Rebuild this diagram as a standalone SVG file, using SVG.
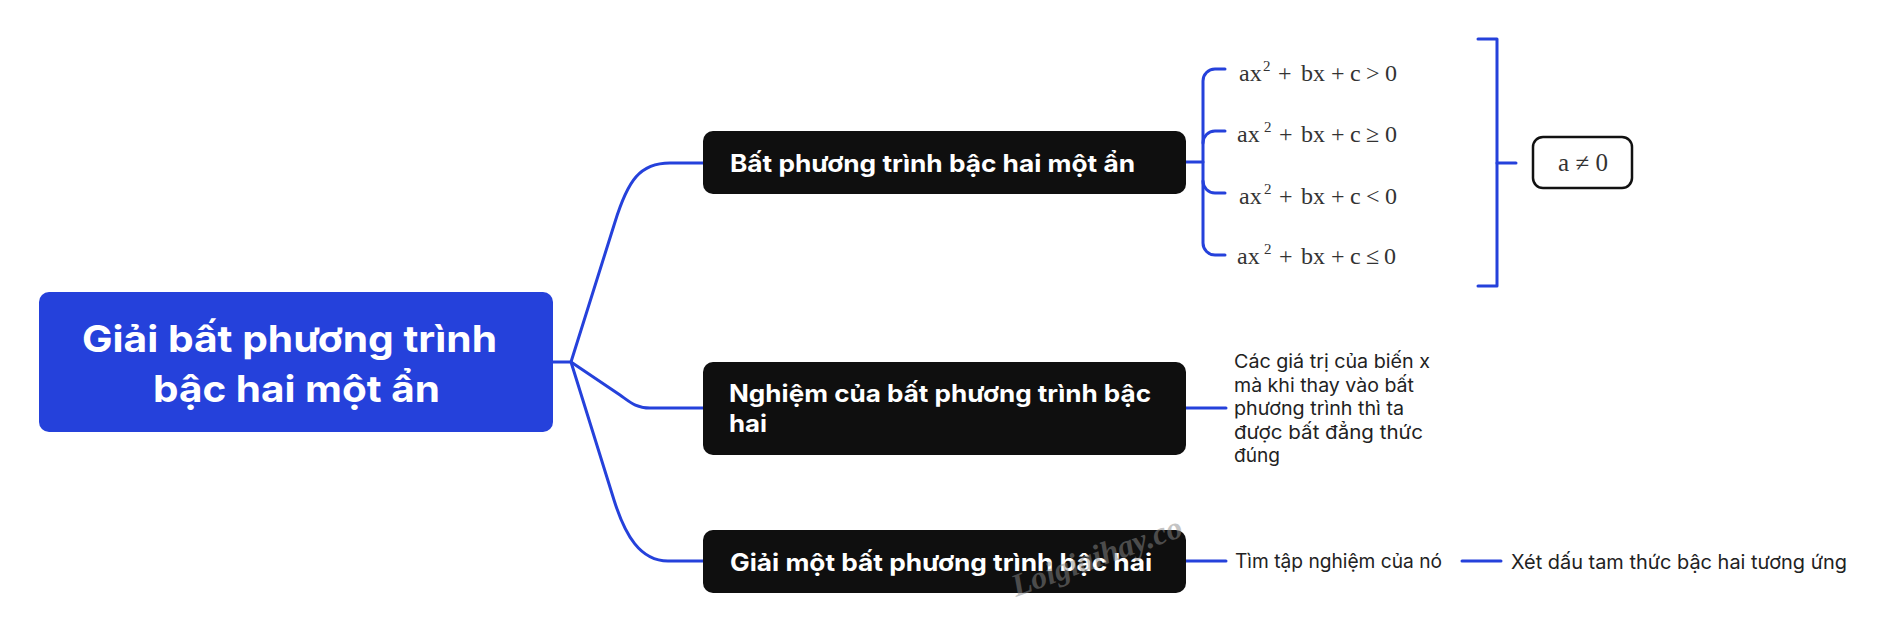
<svg xmlns="http://www.w3.org/2000/svg" width="1897" height="625" viewBox="0 0 1897 625">
<style>
.conn{fill:none;stroke:#2541db;stroke-width:3;stroke-linecap:round;stroke-linejoin:round}
.root{fill:#2541db}
.node{fill:#0f0f0f}
.rt{font-family:Inter,"Noto Sans",sans-serif;font-weight:700;font-size:37px;fill:#fff}
.nt{font-family:Inter,"Noto Sans",sans-serif;font-weight:700;font-size:24px;fill:#fff}
.lt{font-family:Inter,"Noto Sans",sans-serif;font-size:18.5px;fill:#222}
.lt2{font-family:Inter,"Noto Sans",sans-serif;font-size:19.5px;fill:#222}
.f{font-family:"Liberation Serif","Times New Roman",serif;font-size:24px;fill:#333}
.sup{font-size:15px}
.wm{font-family:"Liberation Serif",serif;font-weight:700;font-style:italic;font-size:32px;fill:#8a8a8a;opacity:0.5}
</style>
<g id="connectors">
<path class="conn" d="M553 362 H571"/>
<path class="conn" d="M571 362 L615 222 C628 180 640 163 670 163 H703"/>
<path class="conn" d="M571 362 L620 395 C630 402 636 408 650 408 H703"/>
<path class="conn" d="M571 362 L614 500 C625 535 640 561 668 561 H703"/>
<path class="conn" d="M1186 162 H1203"/>
<path class="conn" d="M1225 69 H1215 A12 12 0 0 0 1203 81 V243 A12 12 0 0 0 1215 255 H1225"/>
<path class="conn" d="M1203 143 A12 12 0 0 1 1215 131 H1225"/>
<path class="conn" d="M1203 181 A12 12 0 0 0 1215 193 H1225"/>
<path class="conn" d="M1478 39 H1497 V286 H1478"/>
<path class="conn" d="M1497 163 H1516"/>
<path class="conn" d="M1186 408 H1226"/>
<path class="conn" d="M1186 561 H1226"/>
<path class="conn" d="M1462 561 H1501"/>
</g>
<g id="root">
<rect class="root" x="39" y="292" width="514" height="140" rx="10"/>
<text class="rt" x="82" y="352" textLength="415" lengthAdjust="spacingAndGlyphs">Giải bất phương trình</text>
<text class="rt" x="153" y="402" textLength="287" lengthAdjust="spacingAndGlyphs">bậc hai một ẩn</text>
</g>
<g id="n1">
<rect class="node" x="703" y="131" width="483" height="63" rx="10"/>
<text class="nt" x="730" y="172" textLength="405" lengthAdjust="spacingAndGlyphs">Bất phương trình bậc hai một ẩn</text>
</g>
<g id="n2">
<rect class="node" x="703" y="362" width="483" height="93" rx="10"/>
<text class="nt" x="729" y="402" textLength="422" lengthAdjust="spacingAndGlyphs">Nghiệm của bất phương trình bậc</text>
<text class="nt" x="729" y="432" textLength="38" lengthAdjust="spacingAndGlyphs">hai</text>
</g>
<g id="n3">
<rect class="node" x="703" y="530" width="483" height="63" rx="10"/>
<text class="nt" x="730" y="571" textLength="422" lengthAdjust="spacingAndGlyphs">Giải một bất phương trình bậc hai</text>
</g>
<g id="f1"><text class="f" y="81"><tspan x="1239">ax</tspan><tspan class="sup" x="1263" dy="-10">2</tspan><tspan x="1278" dy="10">+</tspan><tspan x="1301">bx</tspan><tspan x="1331">+</tspan><tspan x="1350">c</tspan><tspan x="1366">&gt;</tspan><tspan x="1385">0</tspan></text></g>
<g id="f2"><text class="f" y="142"><tspan x="1237">ax</tspan><tspan class="sup" x="1264" dy="-10">2</tspan><tspan x="1279" dy="10">+</tspan><tspan x="1301">bx</tspan><tspan x="1331">+</tspan><tspan x="1350">c</tspan><tspan x="1366">≥</tspan><tspan x="1385">0</tspan></text></g>
<g id="f3"><text class="f" y="204"><tspan x="1239">ax</tspan><tspan class="sup" x="1264" dy="-10">2</tspan><tspan x="1279" dy="10">+</tspan><tspan x="1301">bx</tspan><tspan x="1331">+</tspan><tspan x="1350">c</tspan><tspan x="1366">&lt;</tspan><tspan x="1385">0</tspan></text></g>
<g id="f4"><text class="f" y="264"><tspan x="1237">ax</tspan><tspan class="sup" x="1264" dy="-10">2</tspan><tspan x="1279" dy="10">+</tspan><tspan x="1301">bx</tspan><tspan x="1331">+</tspan><tspan x="1350">c</tspan><tspan x="1366">≤</tspan><tspan x="1384">0</tspan></text></g>
<g id="cond">
<rect x="1533" y="137" width="99" height="51" rx="10" fill="#fff" stroke="#111" stroke-width="2.5"/>
<text class="f" x="1583" y="171" text-anchor="middle" style="font-size:25px">a ≠ 0</text>
</g>
<g id="leaf1">
<text class="lt" x="1234" y="368" textLength="196" lengthAdjust="spacingAndGlyphs">Các giá trị của biến x</text>
<text class="lt" x="1234" y="392" textLength="180" lengthAdjust="spacingAndGlyphs">mà khi thay vào bất</text>
<text class="lt" x="1234" y="415" textLength="170" lengthAdjust="spacingAndGlyphs">phương trình thì ta</text>
<text class="lt" x="1234" y="439" textLength="189" lengthAdjust="spacingAndGlyphs">được bất đẳng thức</text>
<text class="lt" x="1234" y="462" textLength="46" lengthAdjust="spacingAndGlyphs">đúng</text>
</g>
<g id="leaf2"><text class="lt2" x="1235" y="568" textLength="207" lengthAdjust="spacingAndGlyphs">Tìm tập nghiệm của nó</text></g>
<g id="leaf3"><text class="lt2" x="1511" y="569" textLength="336" lengthAdjust="spacingAndGlyphs">Xét dấu tam thức bậc hai tương ứng</text></g>
<text class="wm" x="1016" y="597" transform="rotate(-20 1016 597)">Loigiaihay.co</text>
</svg>
